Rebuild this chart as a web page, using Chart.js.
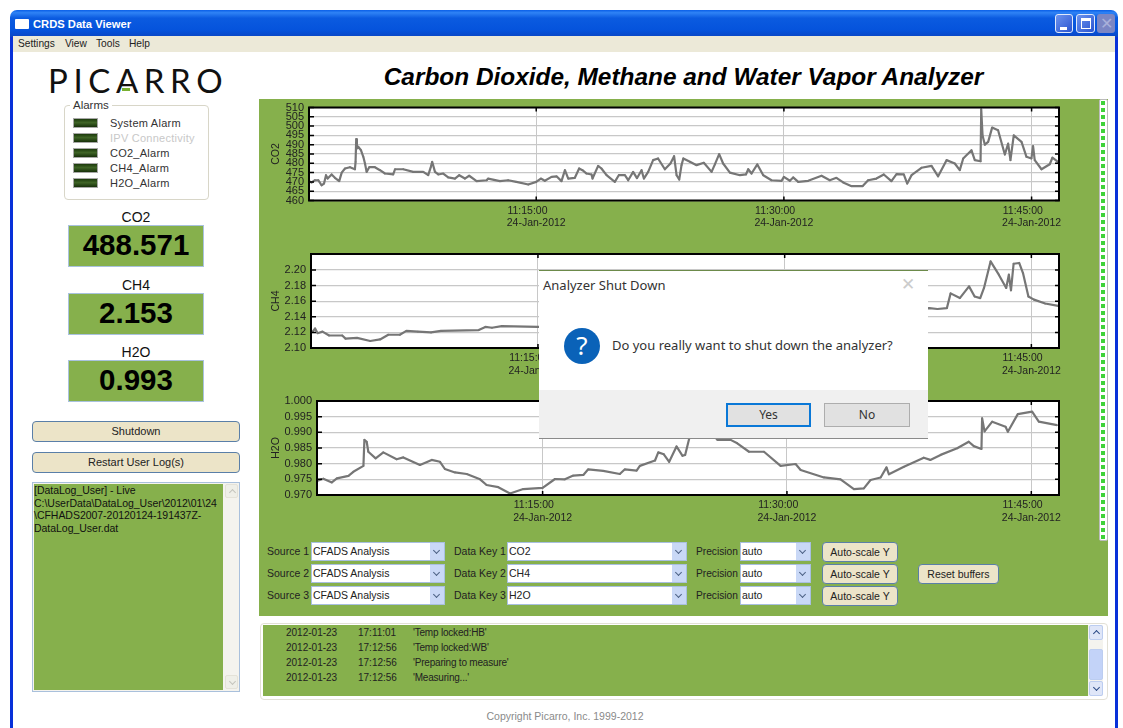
<!DOCTYPE html>
<html>
<head>
<meta charset="utf-8">
<title>CRDS Data Viewer</title>
<script src="https://cdn.jsdelivr.net/npm/chart.js@4/dist/chart.umd.min.js"></script>
<style>
html, body { margin: 0; padding: 0; background: #fff; }
body { width: 1123px; height: 728px; position: relative; overflow: hidden; font-family: "Liberation Sans", Arial, sans-serif; color: #222; }
.a { position: absolute; box-sizing: border-box; white-space: nowrap; }
canvas.plot { position: absolute; }
.titlebar { left: 10px; top: 10px; width: 1108px; height: 27px; border-radius: 7px 7px 0 0; background: linear-gradient(#0a5fe8 0%, #2f83f5 10%, #0b5be0 30%, #0553dc 75%, #0a46c4 100%); }
.winbtn { top: 14px; height: 19px; border: 1px solid #dfe9fb; border-radius: 3px; background: linear-gradient(135deg, #6c93ee, #2a54d0); }
.green { background: #86b04c; }
.menu { top: 38px; font-size: 10.2px; color: #222; }
.led { left: 73px; width: 25px; height: 10px; border: 1px solid #a8a8a8; background: linear-gradient(#1c3a0c, #3f6426 45%, #17300a); }
.ledtext { left: 110px; font-size: 11px; letter-spacing: .25px; line-height: 12px; color: #333; }
.readname { left: 68px; width: 136px; text-align: center; font-size: 14px; line-height: 16px; color: #111; }
.readbox { left: 68px; width: 136px; height: 42px; border: 1.5px solid #a9c2de; background: #86b04c; text-align: center; font-weight: bold; font-size: 29.5px; line-height: 38px; color: #000; }
.btn { background: #ece4c8; border: 1.5px solid #5a7fa8; border-radius: 4px; text-align: center; font-size: 11px; color: #222; }
.lbl { font-size: 10.5px; line-height: 12px; color: #222; }
.combo { height: 19px; background: #fff; border: 1px solid #a8bfe0; font-size: 10.5px; line-height: 17px; padding-left: 1px; color: #222; }
.combo i { position: absolute; right: 0; top: 0; bottom: 0; width: 14px; background: #c9d8f6; }
.combo i::after { content: ""; position: absolute; left: 4px; top: 5px; width: 4px; height: 4px; border-right: 1.5px solid #4d6185; border-bottom: 1.5px solid #4d6185; transform: rotate(45deg); }
.logrow { font-size: 10px; line-height: 12px; color: #222; }
.sb { background: #f4f3ee; }
.sbb { background: #dfe6f8; border: 1px solid #bccdf0; border-radius: 2px; }
.up::after, .down::after { content: ""; position: absolute; left: 4px; width: 4px; height: 4px; border-left: 1.5px solid #2c4a86; border-top: 1.5px solid #2c4a86; }
.up::after { top: 5px; transform: rotate(45deg); }
.down::after { top: 3px; transform: rotate(225deg); }
.pale::after { border-color: #c4c4bc; }
</style>
</head>
<body>

<div class="a" style="left:10px;top:20px;width:1108px;height:708px;border-left:3px solid #0831d9;border-right:3px solid #0831d9;"></div>
<div class="a titlebar"></div>
<div class="a" style="left:15px;top:19px;width:14px;height:10px;background:#fff;border-radius:1px;"></div>
<div class="a" style="left:33px;top:17px;font-size:11.2px;line-height:14px;font-weight:bold;color:#fff;">CRDS Data Viewer</div>
<div class="a winbtn" style="left:1055px;width:18px;"><div class="a" style="left:4px;top:12px;width:7px;height:3px;background:#fff;"></div></div>
<div class="a winbtn" style="left:1076px;width:19px;"><div class="a" style="left:4px;top:3px;width:10px;height:11px;border:1px solid #fff;border-top-width:3px;"></div></div>
<div class="a" style="left:1097px;top:14px;width:18px;height:19px;background:#7b86c4;border-radius:3px;color:#a9b0da;font-size:16px;line-height:19px;text-align:center;">✕</div>

<div class="a" style="left:13px;top:36px;width:1102px;height:16px;background:#ece9d8;"></div>
<div class="a menu" style="left:18px;">Settings</div>
<div class="a menu" style="left:65px;">View</div>
<div class="a menu" style="left:96px;">Tools</div>
<div class="a menu" style="left:129px;">Help</div>

<div class="a" style="left:48px;top:60px;font-family:Lato,'Open Sans',sans-serif;font-weight:400;font-size:33px;line-height:40px;letter-spacing:5.6px;color:#111;">PICARRO</div>
<div class="a" style="left:122px;top:88px;width:8px;height:3px;background:#78b030;"></div>
<div class="a" style="left:383px;top:63px;width:601px;text-align:center;font-size:24.4px;line-height:28px;font-weight:bold;font-style:italic;color:#000;">Carbon Dioxide, Methane and Water Vapor Analyzer</div>

<div class="a" style="left:64px;top:105px;width:145px;height:95px;border:1px solid #d8d6c8;border-radius:4px;"></div>
<div class="a" style="left:70px;top:99px;padding:0 3px;background:#fff;font-size:11.5px;line-height:13px;color:#333;">Alarms</div>
<div class="a led" style="top:118px;"></div><div class="a ledtext" style="top:117px;">System Alarm</div>
<div class="a led" style="top:133px;"></div><div class="a ledtext" style="top:132px;color:#c8c8c8;">IPV Connectivity</div>
<div class="a led" style="top:148px;"></div><div class="a ledtext" style="top:147px;">CO2_Alarm</div>
<div class="a led" style="top:163px;"></div><div class="a ledtext" style="top:162px;">CH4_Alarm</div>
<div class="a led" style="top:178px;"></div><div class="a ledtext" style="top:177px;">H2O_Alarm</div>

<div class="a readname" style="top:209px;">CO2</div><div class="a readbox" id="read0" style="top:225px;"></div>
<div class="a readname" style="top:277px;">CH4</div><div class="a readbox" id="read1" style="top:293px;"></div>
<div class="a readname" style="top:344px;">H2O</div><div class="a readbox" id="read2" style="top:360px;"></div>

<div class="a btn" style="left:32px;top:421px;width:208px;height:21px;line-height:19px;">Shutdown</div>
<div class="a btn" style="left:32px;top:452px;width:208px;height:21px;line-height:19px;">Restart User Log(s)</div>

<div class="a" style="left:32px;top:482px;width:208px;height:210px;border:1px solid #a9c0dc;background:#f4f3ee;"></div>
<div class="a green" style="left:34px;top:484px;width:189px;height:206px;"></div>
<div class="a sbb up pale" style="left:225px;top:484px;width:13px;height:14px;background:#efefe8;border-color:#e4e2d8;"></div>
<div class="a sbb down pale" style="left:225px;top:675px;width:13px;height:14px;background:#efefe8;border-color:#e4e2d8;"></div>
<div class="a lbl" style="left:34px;top:484px;line-height:12.5px;font-size:10.5px;letter-spacing:-.03px;color:#111;">[DataLog_User] - Live<br>C:\UserData\DataLog_User\2012\01\24<br>\CFHADS2007-20120124-191437Z-<br>DataLog_User.dat</div>

<div class="a green" style="left:259px;top:99px;width:849px;height:517px;"></div>
<div class="a" style="left:1099px;top:99px;width:9px;height:442px;background:#fff;border:1px solid #bbb;border-radius:2px;"></div>
<div class="a" style="left:1101px;top:101px;width:4px;height:438px;background:repeating-linear-gradient(#3fd23a 0 4px,#fff 4px 7px);"></div>

<canvas class="plot" id="plotCO2"></canvas>
<canvas class="plot" id="plotCH4"></canvas>
<canvas class="plot" id="plotH2O"></canvas>

<div class="a lbl" style="left:267px;top:545px;">Source 1</div>
<div class="a combo" style="left:311px;top:542px;width:134px;">CFADS Analysis<i></i></div>
<div class="a lbl" style="left:454px;top:545px;">Data Key 1</div>
<div class="a combo" style="left:507px;top:542px;width:180px;">CO2<i></i></div>
<div class="a lbl" style="left:696px;top:546px;font-size:10.2px;">Precision</div>
<div class="a combo" style="left:740px;top:542px;width:71px;">auto<i></i></div>
<div class="a btn" style="left:822px;top:542px;width:76px;height:20px;line-height:18px;font-size:10.5px;">Auto-scale Y</div>

<div class="a lbl" style="left:267px;top:567px;">Source 2</div>
<div class="a combo" style="left:311px;top:564px;width:134px;">CFADS Analysis<i></i></div>
<div class="a lbl" style="left:454px;top:567px;">Data Key 2</div>
<div class="a combo" style="left:507px;top:564px;width:180px;">CH4<i></i></div>
<div class="a lbl" style="left:696px;top:568px;font-size:10.2px;">Precision</div>
<div class="a combo" style="left:740px;top:564px;width:71px;">auto<i></i></div>
<div class="a btn" style="left:822px;top:564px;width:76px;height:20px;line-height:18px;font-size:10.5px;">Auto-scale Y</div>
<div class="a btn" style="left:918px;top:564px;width:81px;height:20px;line-height:18px;font-size:10.5px;">Reset buffers</div>

<div class="a lbl" style="left:267px;top:589px;">Source 3</div>
<div class="a combo" style="left:311px;top:586px;width:134px;">CFADS Analysis<i></i></div>
<div class="a lbl" style="left:454px;top:589px;">Data Key 3</div>
<div class="a combo" style="left:507px;top:586px;width:180px;">H2O<i></i></div>
<div class="a lbl" style="left:696px;top:590px;font-size:10.2px;">Precision</div>
<div class="a combo" style="left:740px;top:586px;width:71px;">auto<i></i></div>
<div class="a btn" style="left:822px;top:586px;width:76px;height:20px;line-height:18px;font-size:10.5px;">Auto-scale Y</div>

<div class="a" style="left:260px;top:623px;width:848px;height:77px;border:1px solid #e2e0d6;border-radius:4px;"></div>
<div class="a green" style="left:263px;top:625px;width:825px;height:71px;"></div>
<div class="a" id="logRows"></div>
<div class="a sb" style="left:1088px;top:625px;width:15px;height:71px;"></div>
<div class="a sbb up" style="left:1089px;top:625px;width:14px;height:15px;"></div>
<div class="a sbb" style="left:1089px;top:649px;width:14px;height:31px;background:#c3d3f8;"></div>
<div class="a sbb down" style="left:1089px;top:681px;width:14px;height:15px;"></div>

<div class="a" style="left:465px;top:710px;width:200px;text-align:center;font-size:10.5px;line-height:12px;color:#8a8a8a;">Copyright Picarro, Inc. 1999-2012</div>

<!-- shut down dialog sits on top of the plots -->
<div class="a" style="left:539px;top:270px;width:389px;height:169px;background:#fff;border-top:1px solid #6c8a4a;border-bottom:1px solid #8a8a8a;">
  <div class="a" style="left:4px;top:6px;font-family:'Noto Sans',sans-serif;font-size:13px;line-height:17px;color:#333;">Analyzer Shut Down</div>
  <div class="a" style="left:362px;top:3px;font-size:17px;line-height:22px;color:#ccc;">✕</div>
  <div class="a" style="left:25px;top:57px;width:36px;height:36px;border-radius:50%;background:#0a62b8;color:#fff;text-align:center;font-family:'Noto Sans',sans-serif;font-size:26px;line-height:35px;">?</div>
  <div class="a" style="left:73px;top:66px;font-family:'Noto Sans',sans-serif;font-size:13px;line-height:17px;color:#333;">Do you really want to shut down the analyzer?</div>
  <div class="a" style="left:0;top:119px;width:389px;height:48px;background:#f0f0f0;"></div>
  <div class="a" style="left:187px;top:132px;width:85px;height:24px;background:#e1e1e1;border:2px solid #0a78d7;text-align:center;font-family:'Noto Sans',sans-serif;font-size:12px;line-height:20px;color:#333;">Yes</div>
  <div class="a" style="left:285px;top:132px;width:86px;height:24px;background:#e1e1e1;border:1px solid #adadad;text-align:center;font-family:'Noto Sans',sans-serif;font-size:12px;line-height:22px;color:#333;">No</div>
</div>

<script>
// minutes after 11:00:00
const co2Minutes = [1.24,1.4,1.6,1.8,2,2.15,2.27,2.37,2.61,2.81,3.07,3.22,3.42,3.72,4.02,4.06,4.1,4.14,4.22,4.39,4.53,4.63,4.73,4.89,5.23,5.54,5.84,6.34,6.45,6.95,7.55,8.16,8.46,8.62,8.7,8.87,9.07,9.37,9.67,10.08,10.34,10.68,10.94,11.39,12,12.09,12.8,13.3,13.8,14.52,15,15.28,15.52,15.93,16.23,16.53,16.74,16.94,17.34,17.6,17.8,18.05,18.35,18.41,18.75,18.95,19.26,19.76,20,20.37,20.57,20.87,21.1,21.38,21.52,21.78,22.08,22.38,22.79,23.13,23.35,23.5,23.66,23.8,23.91,24.31,24.71,25.15,25.62,25.82,26.08,26.32,26.73,27.34,27.7,27.84,28.04,28.39,28.75,29.25,29.86,30,30.36,30.56,30.87,31.47,32.28,32.78,33.18,33.59,34.1,34.76,35.1,35.6,36.05,36.51,36.82,37.26,37.47,37.73,38.33,38.94,39.34,39.85,40.35,40.65,40.86,41.36,41.56,41.91,41.95,42.03,42.17,42.37,42.61,42.97,43.38,43.58,43.72,43.92,44.39,44.69,44.99,45.09,45.19,45.6,46.1,46.26,46.6];
const co2Values = [470.4,469.7,470.9,470.9,468.2,469.1,473.6,471.8,474,472.2,470.4,475,477.2,477.9,476.8,480.8,493,488,488.9,487,483.5,479.9,475.4,477.9,477.9,476.3,474.5,474,476.8,476.8,475.4,475.4,473.6,478.1,480.8,475.4,474,474.5,472.4,471.8,473.6,471.8,473.3,470.4,470.9,471.8,470.4,470.9,470,468.6,470,471.8,470.6,472.7,473,470.4,476.3,471.8,472.2,477.2,476.3,474.5,474,471.8,478.6,477.2,473.6,470,473.6,473.6,470.9,475.4,472,476.3,471.8,475.4,481.7,482.6,476.8,479.9,483.8,473.6,471.3,479,482.6,480.8,479,480.3,475.4,479.4,484.9,479.9,475,473.6,474,476.8,474.5,479.4,473.6,470.9,470.6,472.7,470.6,472.4,470,470.6,473.3,470.9,472.2,469.7,467.7,467.7,470.9,471.8,474,470.4,474.2,474,469.1,473.6,477.6,478.6,473,481.7,479.9,476.3,482.6,487,481.7,481.1,509,495,490,491.5,499.2,497.8,484.7,490.6,481.7,495,491.5,483.5,482.6,489.2,481.7,476.8,479.5,483,480.8];

const ch4Minutes = [1.3,1.45,1.6,1.9,2.3,3.1,3.3,4,4.8,5.4,5.9,6.6,7,7.7,8.5,9.1,11.4,11.8,12.2,12.8,15,16,20,25,30,35,38.8,39.29,39.86,40.09,40.65,41.21,41.55,41.89,42.12,42.52,43.02,43.47,43.63,43.76,43.92,44.26,44.49,44.82,45.16,45.84,46.63];
const ch4Values = [2.121,2.125,2.119,2.121,2.116,2.116,2.112,2.113,2.109,2.111,2.117,2.117,2.122,2.121,2.12,2.122,2.123,2.127,2.126,2.128,2.127,2.127,2.13,2.135,2.14,2.146,2.151,2.15,2.151,2.17,2.164,2.179,2.166,2.164,2.177,2.211,2.194,2.177,2.194,2.174,2.208,2.209,2.196,2.166,2.162,2.157,2.154];

const h2oMinutes = [1.18,1.54,2.06,2.37,3.08,3.38,4,4.06,4.2,4.3,4.75,5.22,6.04,6.45,7.47,8.19,8.7,9,9.62,10.34,11.16,11.56,12.28,13,13.81,15,15.76,16.37,16.88,17.5,17.8,18.72,19.74,20.05,20.77,20.97,21.9,22.1,22.44,22.77,23.22,23.59,23.75,24,24.5,25,25.73,26.54,26.95,27.67,28.59,29.61,30.53,30.84,32.27,33.29,34.11,34.72,35.13,35.75,36.11,36.26,37.18,38.4,38.8,39.43,40.45,41.16,41.47,41.94,41.98,42.13,42.6,43.42,43.56,44.17,45.05,45.46,46.58];
const h2oValues = [0.9746,0.9752,0.974,0.9753,0.9761,0.9774,0.9793,0.9876,0.987,0.9838,0.9817,0.9836,0.9814,0.982,0.9796,0.9812,0.9806,0.9783,0.9772,0.9767,0.975,0.9732,0.9725,0.9705,0.9719,0.9723,0.9751,0.975,0.9762,0.9764,0.9782,0.9777,0.9767,0.9782,0.9778,0.9793,0.981,0.9836,0.983,0.9806,0.9855,0.9825,0.9828,0.988,0.9915,0.992,0.9876,0.9876,0.9865,0.9838,0.9838,0.9793,0.9799,0.978,0.9756,0.975,0.9719,0.9721,0.9748,0.9756,0.9788,0.9766,0.979,0.9819,0.9812,0.9828,0.9849,0.987,0.9856,0.9847,0.9945,0.9903,0.9934,0.9918,0.9902,0.9958,0.9966,0.9934,0.9923];

const co2Ticks = [460,465,470,475,480,485,490,495,500,505,510];
const ch4Ticks = [2.10,2.12,2.14,2.16,2.18,2.20];
const h2oTicks = [0.970,0.975,0.980,0.985,0.990,0.995,1.000];
const timeTicks = [15,30,45];
const timeLabels = ["11:15:00","11:30:00","11:45:00"];
const dateLabel = "24-Jan-2012";

const readNames = ["488.571","2.153","0.993"];
const logDates = ["2012-01-23","2012-01-23","2012-01-23","2012-01-23"];
const logTimes = ["17:11:01","17:12:56","17:12:56","17:12:56"];
const logMessages = ["'Temp locked:HB'","'Temp locked:WB'","'Preparing to measure'","'Measuring...'"];

readNames.forEach((v, i) => { document.getElementById("read" + i).textContent = v; });
let rows = "";
logDates.forEach((d, i) => {
  const y = 627 + i * 15;
  rows += `<div class="a logrow" style="left:286px;top:${y}px;">${d}</div>`;
  rows += `<div class="a logrow" style="left:358px;top:${y}px;">${logTimes[i]}</div>`;
  rows += `<div class="a logrow" style="left:413px;top:${y}px;letter-spacing:-.2px;">${logMessages[i]}</div>`;
});
document.getElementById("logRows").innerHTML = rows;

// white plot area, black frame and the short inward ticks
const framePlugin = {
  id: "frame",
  beforeDraw(chart) {
    const a = chart.chartArea;
    chart.ctx.fillStyle = "#fff";
    chart.ctx.fillRect(a.left, a.top, a.right - a.left, a.bottom - a.top);
  },
  afterDraw(chart) {
    const ctx = chart.ctx, a = chart.chartArea;
    ctx.save();
    ctx.strokeStyle = "#000";
    ctx.lineWidth = 2;
    ctx.strokeRect(a.left, a.top, a.right - a.left, a.bottom - a.top);
    ctx.lineWidth = 1.5;
    ctx.beginPath();
    chart.scales.y.ticks.forEach((t) => {
      const p = chart.scales.y.getPixelForValue(t.value);
      ctx.moveTo(a.left, p); ctx.lineTo(a.left + 5, p);
      ctx.moveTo(a.right, p); ctx.lineTo(a.right - 4, p);
    });
    chart.scales.x.ticks.forEach((t) => {
      const p = chart.scales.x.getPixelForValue(t.value);
      ctx.moveTo(p, a.top); ctx.lineTo(p, a.top + 4);
      ctx.moveTo(p, a.bottom); ctx.lineTo(p, a.bottom - 4);
    });
    ctx.stroke();
    ctx.restore();
  },
};

function makePlot(id, name, minutes, values, yTicks, yMin, yMax, decimals, box, axisWidth, xMin, xMax) {
  const el = document.getElementById(id);
  el.style.left = "260px";
  el.style.top = box.top + "px";
  el.style.width = "840px";
  el.style.height = box.height + "px";
  el.width = 840;
  el.height = box.height;
  return new Chart(el.getContext("2d"), {
    type: "line",
    data: {
      datasets: [{
        label: name,
        data: minutes.map((m, i) => ({ x: m, y: values[i] })),
        borderColor: "#767676",
        backgroundColor: "#767676",
        borderWidth: 2.2,
        borderJoinStyle: "round",
        pointRadius: 0.9,
        pointBorderWidth: 0,
        tension: 0,
      }],
    },
    options: {
      responsive: false,
      animation: false,
      layout: { padding: { top: box.padTop, right: 41, left: 0, bottom: 0 } },
      plugins: { legend: { display: false }, tooltip: { enabled: false } },
      scales: {
        x: {
          type: "linear",
          min: xMin,
          max: xMax,
          border: { display: false },
          grid: { color: "#c8c8c8", lineWidth: 1, drawTicks: false },
          ticks: {
            autoSkip: false,
            maxRotation: 0,
            padding: 4,
            color: "#222",
            font: { family: "Liberation Sans", size: 10.5, lineHeight: 1.2 },
            callback: (v) => {
              const i = timeTicks.indexOf(v);
              return i < 0 ? "" : [timeLabels[i] + "\u2007\u2007\u2007", dateLabel];
            },
          },
          afterBuildTicks: (s) => { s.ticks = timeTicks.map((v) => ({ value: v })); },
          afterFit: (s) => {
            s.height = box.height - box.padTop - box.plotHeight;
            s.paddingLeft = 0;
            s.paddingRight = 0;
          },
        },
        y: {
          min: yMin,
          max: yMax,
          border: { display: false },
          grid: { color: "#c8c8c8", lineWidth: 1.3, drawTicks: false },
          title: { display: true, text: name, color: "#222", padding: { top: 10, bottom: 0 }, font: { family: "Liberation Sans", size: 10.5 } },
          ticks: {
            autoSkip: false,
            padding: 5,
            color: "#222",
            font: { family: "Liberation Sans", size: 11 },
            callback: (v) => v.toFixed(decimals),
          },
          afterBuildTicks: (s) => { s.ticks = yTicks.map((v) => ({ value: v })); },
          afterFit: (s) => {
            s.width = axisWidth;
            s.paddingTop = 0;
            s.paddingBottom = 0;
          },
        },
      },
    },
    plugins: [framePlugin],
  });
}

makePlot("plotCO2", "CO2", co2Minutes, co2Values, co2Ticks, 460, 510, 0, { top: 100, height: 140, padTop: 7.5, plotHeight: 93 }, 49, 1.24, 46.66);
makePlot("plotCH4", "CH4", ch4Minutes, ch4Values, ch4Ticks, 2.10, 2.2205, 2, { top: 246, height: 140, padTop: 8, plotHeight: 94 }, 51, 1.2, 46.68);
makePlot("plotH2O", "H2O", h2oMinutes, h2oValues, h2oTicks, 0.97, 1.0, 3, { top: 393, height: 140, padTop: 8, plotHeight: 94 }, 57, 1.15, 46.7);
</script>
</body>
</html>
